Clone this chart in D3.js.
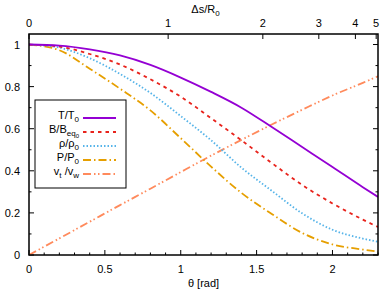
<!DOCTYPE html>
<html>
<head>
<meta charset="utf-8">
<script src="https://cdn.jsdelivr.net/npm/d3@7"></script>
<style>
  body { margin: 0; background: #fff; }
  svg text { font-family: "Liberation Sans", Arial, sans-serif; font-size: 11px; fill: #000; }
</style>
</head>
<body>
<svg id="chart" width="383" height="291"></svg>
<script>
// values
const theta = [0, 0.2, 0.4, 0.6, 0.8, 1.0, 1.2, 1.4, 1.6, 1.8, 2.0, 2.2, 2.3]
const tempRatio = [1, 0.995, 0.977, 0.948, 0.903, 0.843, 0.775, 0.70, 0.608, 0.513, 0.418, 0.322, 0.276]
const fieldRatio = [1, 0.99, 0.955, 0.905, 0.835, 0.752, 0.65, 0.545, 0.437, 0.333, 0.245, 0.168, 0.133]
const densRatio = [1, 0.985, 0.935, 0.86, 0.77, 0.66, 0.545, 0.415, 0.305, 0.198, 0.12, 0.078, 0.063]
const presRatio = [1, 0.973, 0.885, 0.79, 0.687, 0.555, 0.42, 0.295, 0.195, 0.105, 0.05, 0.026, 0.016]
const velRatio = [0, 0.079, 0.158, 0.237, 0.315, 0.394, 0.472, 0.547, 0.62, 0.69, 0.758, 0.818, 0.849]

const xTicks = [0, 0.5, 1, 1.5, 2]
const yTicks = [0, 0.2, 0.4, 0.6, 0.8, 1]
const topTickTheta = [0, 0.917, 1.541, 1.910, 2.151, 2.288]
const topTickLabels = ['0', '1', '2', '3', '4', '5']

const series = [
  {name: 'T', sub: '0', values: tempRatio, colour: '#9400d3', dash: null},
  {name: 'B', sub: 'eq', subsub: '0', values: fieldRatio, colour: '#e8231c', dash: '3.5,4'},
  {name: 'ρ', sub: '0', values: densRatio, colour: '#56b4e9', dash: '1.5,2'},
  {name: 'P', sub: '0', values: presRatio, colour: '#e69f00', dash: '8,3,1.5,3'},
  {name: 'v', values: velRatio, colour: '#ff8a5c', dash: '8,3,1.5,2.5,1.5,3'}
]

const box = {left: 29, right: 378, top: 34, bottom: 255}
const svg = d3.select('#chart')

const x = d3.scaleLinear().domain([0, 2.3]).range([box.left, box.right])
const y = d3.scaleLinear().domain([0, 1.05]).range([box.bottom, box.top])

// Ticks
const minorX = d3.range(0, 2.31, 0.1)
const minorY = d3.range(0, 1.05, 0.1)
const tickG = svg.append('g').attr('stroke', '#000').attr('stroke-width', 1)
minorX.forEach(t => {
  const major = xTicks.some(m => Math.abs(m - t) < 1e-6)
  tickG.append('line')
    .attr('x1', x(t)).attr('x2', x(t))
    .attr('y1', box.bottom).attr('y2', box.bottom - (major ? 5 : 2.5))
})
minorY.forEach(t => {
  const major = yTicks.some(m => Math.abs(m - t) < 1e-6)
  const len = major ? 5 : 2.5
  tickG.append('line')
    .attr('x1', box.left).attr('x2', box.left + len)
    .attr('y1', y(t)).attr('y2', y(t))
  tickG.append('line')
    .attr('x1', box.right).attr('x2', box.right - len)
    .attr('y1', y(t)).attr('y2', y(t))
})
topTickTheta.forEach(t => {
  tickG.append('line')
    .attr('x1', x(t)).attr('x2', x(t))
    .attr('y1', box.top).attr('y2', box.top + 5)
})

// Tick labels
svg.selectAll('text.xlab')
  .data(xTicks)
  .enter()
  .append('text')
  .attr('x', d => x(d))
  .attr('y', 273)
  .attr('text-anchor', 'middle')
  .text(d => d)

svg.selectAll('text.ylab')
  .data(yTicks)
  .enter()
  .append('text')
  .attr('x', 20)
  .attr('y', d => y(d) + 4)
  .attr('text-anchor', 'end')
  .text(d => d)

svg.selectAll('text.toplab')
  .data(topTickTheta)
  .enter()
  .append('text')
  .attr('x', d => x(d))
  .attr('y', 27)
  .attr('text-anchor', 'middle')
  .text((d, i) => topTickLabels[i])

// Axis titles
svg.append('text')
  .attr('x', (box.left + box.right) / 2)
  .attr('y', 287)
  .attr('text-anchor', 'middle')
  .text('θ [rad]')

const topTitle = svg.append('text')
  .attr('x', (box.left + box.right) / 2 + 2)
  .attr('y', 13)
  .attr('text-anchor', 'middle')
topTitle.append('tspan').text('Δs/R')
topTitle.append('tspan').attr('dy', 3).attr('font-size', '8px').text('0')

// Curves
const line = d3.line()
  .x((d, i) => x(theta[i]))
  .y(d => y(d))
  .curve(d3.curveMonotoneX)

const clip = svg.append('clipPath').attr('id', 'plotclip')
clip.append('rect')
  .attr('x', box.left).attr('y', box.top)
  .attr('width', box.right - box.left).attr('height', box.bottom - box.top)

svg.append('g')
  .attr('clip-path', 'url(#plotclip)')
  .selectAll('path')
  .data(series.slice().reverse())
  .enter()
  .append('path')
  .attr('d', d => line(d.values))
  .attr('fill', 'none')
  .attr('stroke', d => d.colour)
  .attr('stroke-width', 1.8)
  .attr('stroke-dasharray', d => d.dash)

// Legend
const legend = svg.append('g')
legend.append('rect')
  .attr('x', 35).attr('y', 100)
  .attr('width', 91).attr('height', 88)
  .attr('fill', '#fff')
  .attr('stroke', '#000')
  .attr('stroke-width', 1)

const labelParts = [
  [['T/T', 0], ['0', 3, 8]],
  [['B/B', 0], ['eq', 3, 8], ['0', 2, 6]],
  [['ρ/ρ', 0], ['0', 3, 8]],
  [['P/P', 0], ['0', 3, 8]],
  [['v', 0], ['t', 3, 8], [' /v', -3, 11], ['w', 3, 8]]
]

series.forEach((s, i) => {
  const rowY = 118 + i * 14
  legend.append('line')
    .attr('x1', 83).attr('x2', 116)
    .attr('y1', rowY).attr('y2', rowY)
    .attr('stroke', s.colour)
    .attr('stroke-width', 1.8)
    .attr('stroke-dasharray', s.dash)
  const t = legend.append('text')
    .attr('x', 79)
    .attr('y', rowY + 1)
    .attr('text-anchor', 'end')
  labelParts[i].forEach(p => {
    t.append('tspan')
      .attr('dy', p[1])
      .attr('font-size', (p[2] || 11) + 'px')
      .text(p[0])
  })
})

// Frame
svg.append('rect')
  .attr('x', box.left).attr('y', box.top)
  .attr('width', box.right - box.left).attr('height', box.bottom - box.top)
  .attr('fill', 'none')
  .attr('stroke', '#000')
  .attr('stroke-width', 1.5)
</script>
</body>
</html>
